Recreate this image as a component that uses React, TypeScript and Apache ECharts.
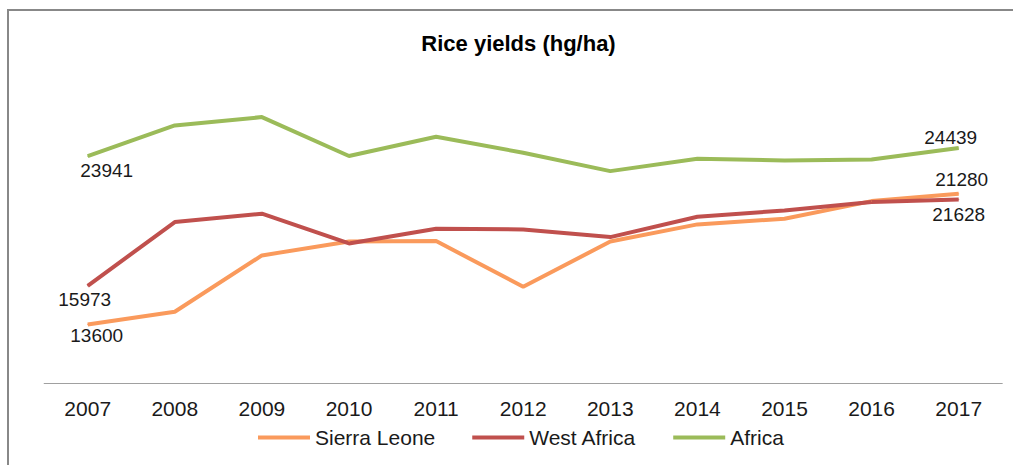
import { useEffect, useRef } from "react";
import * as echarts from "echarts";

const years = ["2007", "2008", "2009", "2010", "2011", "2012", "2013", "2014", "2015", "2016", "2017"];
const sierraLeone = [13600, 14380, 17840, 18700, 18720, 15920, 18690, 19745, 20095, 21176, 21628];
const westAfrica = [15973, 19886, 20402, 18577, 19480, 19438, 18964, 20218, 20605, 21115, 21280];
const africa = [23941, 25827, 26337, 23950, 25133, 24150, 23019, 23781, 23677, 23738, 24439];
const seriesNames = ["Sierra Leone", "West Africa", "Africa"];
const colors = ["#FA9A5C", "#C0504D", "#9BBB59"];
const titleText = "Rice yields (hg/ha)";

export default function App() {
  const ref = useRef<HTMLDivElement>(null);
  useEffect(() => {
    const chart = echarts.init(ref.current!, null, { renderer: "svg" });
    const font = "'Liberation Sans', Arial, sans-serif";
    const textColor = "#1a1a1a";
    const mk = (vals: number[], offsets: Record<number, [number, number]>) =>
      vals.map((v, i) =>
        offsets[i]
          ? { value: v, label: { show: true, position: "inside", offset: offsets[i] } }
          : v
      );
    const labelOffsets: Record<number, [number, number]>[] = [
      { 0: [9, 11], 10: [0, 21] },
      { 0: [-3, 14], 10: [3, -20] },
      { 0: [19, 14], 10: [-8, -11] },
    ];
    const allData = [sierraLeone, westAfrica, africa];
    chart.setOption({
      animation: false,
      graphic: [
        {
          type: "rect",
          shape: { x: 8, y: 10, width: 1100, height: 600 },
          style: { fill: "none", stroke: "#888888", lineWidth: 2 },
          silent: true,
        },
        {
          type: "text",
          x: 518.5,
          y: 43,
          style: {
            text: titleText,
            textAlign: "center",
            textVerticalAlign: "middle",
            font: `bold 22px ${font}`,
            fill: "#000",
          },
        },
      ],
      grid: { left: 44.15, right: 10.75, top: 57.5, bottom: 82 },
      legend: {
        left: 258,
        top: 427,
        padding: 0,
        icon: "rect",
        itemWidth: 52,
        itemHeight: 4,
        itemGap: 37,
        textStyle: { fontSize: 21, color: textColor, fontFamily: font },
        data: seriesNames,
      },
      xAxis: {
        type: "category",
        data: years,
        boundaryGap: true,
        axisLine: { lineStyle: { color: "#a0a0a0", width: 1 } },
        axisTick: { show: false },
        axisLabel: { fontSize: 21, color: textColor, fontFamily: font, margin: 15 },
      },
      yAxis: {
        type: "value",
        min: 10000,
        max: 30000,
        show: false,
        splitLine: { show: false },
      },
      series: seriesNames.map((name, k) => ({
        name,
        type: "line",
        data: mk(allData[k], labelOffsets[k]),
        symbol: "circle",
        symbolSize: 1,
        showSymbol: true,
        lineStyle: { color: colors[k], width: 4 },
        itemStyle: { color: colors[k] },
        emphasis: { disabled: true },
        label: {
          show: false,
          fontSize: 19,
          color: textColor,
          fontFamily: font,
          formatter: (p: any) => String(p.value),
        },
      })),
    });
    return () => chart.dispose();
  }, []);
  return <div ref={ref} style={{ position: "absolute", left: 0, top: 0, width: 1013, height: 465 }} />;
}
